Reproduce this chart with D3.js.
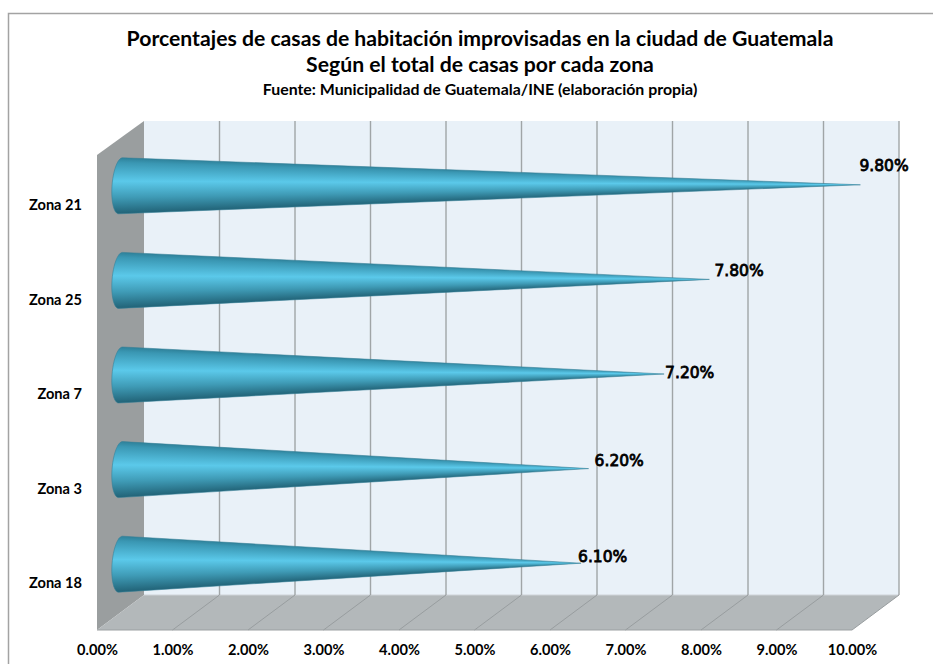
<!DOCTYPE html>
<html>
<head>
<meta charset="utf-8">
<script src="https://cdn.jsdelivr.net/npm/d3@7"></script>
<style>
  html, body { margin: 0; padding: 0; background: #fff; }
  svg { display: block; }
  text { font-family: Lato, "Open Sans", sans-serif; font-weight: 700; fill: #000; }
</style>
</head>
<body>
<div id="chart"></div>
<script>
var zonas = ["Zona 21", "Zona 25", "Zona 7", "Zona 3", "Zona 18"];
var porcentajes = [9.8, 7.8, 7.2, 6.2, 6.1];
var ticks = [0, 1, 2, 3, 4, 5, 6, 7, 8, 9, 10];
var titulos = [
  "Porcentajes de casas de habitación improvisadas en la ciudad de Guatemala",
  "Según el total de casas por cada zona",
  "Fuente: Municipalidad de Guatemala/INE (elaboración propia)"
];

var width = 933, height = 664;

var svg = d3.select("#chart")
  .append("svg")
  .attr("width", width)
  .attr("height", height);

// box corners
var left = 97, right = 852, backTop = 121, backBottom = 595;
var frontBottom = 630, depthX = 47, depthY = 35;

var xFront = d3.scaleLinear().domain([0, 10]).range([left, right]);
var xBack = d3.scaleLinear().domain([0, 10]).range([left + depthX, right + depthX]);
var xMid = d3.scaleLinear().domain([0, 10]).range([left + depthX / 2, right + depthX / 2]);
var y = d3.scaleBand().domain(zonas).range([138.5, 611.5]).paddingInner(0.408).paddingOuter(0.204);
var fmt = d => d.toFixed(2) + "%";

// outer frame, only top and left are inside the picture
svg.append("path")
  .attr("d", "M8.5," + height + "V13.5H" + width)
  .attr("fill", "none")
  .attr("stroke", "#a3a3a3")
  .attr("stroke-width", 1.5);

svg.append("g").selectAll("text")
  .data(titulos)
  .enter().append("text")
  .text(d => d)
  .attr("x", 480)
  .attr("y", (d, i) => [45.5, 71.5, 94.5][i])
  .attr("text-anchor", "middle")
  .attr("font-size", (d, i) => i == 2 ? 15.9 : 21.2);

var box = svg.append("g");

box.append("rect")
  .attr("x", xBack(0))
  .attr("y", backTop)
  .attr("width", xBack(10) - xBack(0))
  .attr("height", backBottom - backTop)
  .attr("fill", "#e9f1f8");

box.append("path")
  .attr("d", "M" + left + "," + (backTop + depthY - 1) + "L" + xBack(0) + "," + backTop + "V" + backBottom + "L" + left + "," + frontBottom + "Z")
  .attr("fill", "#9a9e9f");

box.append("path")
  .attr("d", "M" + left + "," + frontBottom + "L" + xBack(0) + "," + backBottom + "H" + xBack(10) + "L" + right + "," + frontBottom + "Z")
  .attr("fill", "#b3b8ba");

box.append("line")
  .attr("x1", left).attr("x2", right)
  .attr("y1", frontBottom).attr("y2", frontBottom)
  .attr("stroke", "#9b9fa1")
  .attr("stroke-width", 1.2);

box.append("line")
  .attr("x1", xBack(0)).attr("x2", xBack(10))
  .attr("y1", backBottom).attr("y2", backBottom)
  .attr("stroke", "#cfd4d7")
  .attr("stroke-width", 1.2);

var grid = box.selectAll(".grid")
  .data(ticks.slice(1))
  .enter().append("g")
  .attr("class", "grid");

grid.append("line")
  .attr("x1", d => xBack(d)).attr("x2", d => xBack(d))
  .attr("y1", backTop).attr("y2", backBottom)
  .attr("stroke", "#a0a5a7")
  .attr("stroke-width", 1.4);

grid.append("line")
  .attr("x1", d => xBack(d)).attr("x2", d => xFront(d))
  .attr("y1", backBottom).attr("y2", frontBottom)
  .attr("stroke", "#989d9f")
  .attr("stroke-width", 1);

// shading across the cone, applied to each 1px slice so it narrows to the tip
var grad = svg.append("defs").append("linearGradient")
  .attr("id", "coneShade")
  .attr("x1", 0).attr("x2", 0).attr("y1", 0).attr("y2", 1);

grad.selectAll("stop")
  .data([[0, "#2c7d95"], [0.1, "#3a97b3"], [0.42, "#5bc9ea"], [0.7, "#3f9bb6"], [0.9, "#2a7389"], [1, "#1f5f73"]])
  .enter().append("stop")
  .attr("offset", d => d[0])
  .attr("stop-color", d => d[1]);

var cones = svg.selectAll(".cone")
  .data(zonas)
  .enter().append("g")
  .attr("class", "cone");

cones.each(function(zona, i) {
  var g = d3.select(this);
  var cx = xMid(0), cy = y(zona) + y.bandwidth() / 2;
  var ry = y.bandwidth() / 2, rx = 8.5;
  var tipX = xMid(porcentajes[i]), tipY = cy - 1;

  // outline: tip, then the left half of the slightly tilted base ellipse
  var outline = d3.range(0, 25).map(function(k) {
    var a = Math.PI * k / 24;
    var py = -Math.cos(a) * ry;
    return [cx - Math.sin(a) * rx - py * 0.07, cy + py];
  });
  var shape = "M" + tipX + "," + tipY + "L" + outline.join("L") + "Z";

  svg.select("defs").append("clipPath")
    .attr("id", "cone" + i)
    .append("path")
    .attr("d", shape);

  var slices = d3.range(Math.floor(cx - rx - 2), Math.ceil(tipX) + 1);

  g.append("g")
    .attr("clip-path", "url(#cone" + i + ")")
    .selectAll("rect")
    .data(slices)
    .enter().append("rect")
    .each(function(px) {
      var t = Math.max(0, (px + 0.5 - cx) / (tipX - cx));
      var r = ry * (1 - t) + 1;
      var mid = cy + (tipY - cy) * t;
      d3.select(this)
        .attr("x", px)
        .attr("width", 1.2)
        .attr("y", mid - r)
        .attr("height", 2 * r);
    })
    .attr("fill", "url(#coneShade)");

  g.append("path")
    .attr("d", shape)
    .attr("fill", "none")
    .attr("stroke", "#357f96")
    .attr("stroke-opacity", 0.7)
    .attr("stroke-width", 0.8);
});

// manual label placement, the labels were dragged in the original
var nudgeX = [-1, 5, 1, 6, -3];
var nudgeY = [-16, -6, 1.5, -5, -4];

svg.selectAll(".valor")
  .data(porcentajes)
  .enter().append("text")
  .attr("class", "valor")
  .text(fmt)
  .attr("x", (d, i) => xMid(d) + nudgeX[i])
  .attr("y", (d, i) => y(zonas[i]) + y.bandwidth() / 2 + nudgeY[i])
  .attr("dy", "0.1em")
  .style("font-family", "'DejaVu Sans', sans-serif")
  .style("font-weight", 400)
  .attr("font-size", 15.5)
  .attr("stroke", "#000")
  .attr("stroke-width", 0.8);

var xAxis = svg.append("g")
  .attr("transform", "translate(0,637)")
  .call(d3.axisBottom(xFront).tickValues(ticks).tickFormat(fmt).tickSize(0).tickPadding(8));
xAxis.select(".domain").remove();
xAxis.selectAll("text").attr("font-size", 14.6).style("font-family", "Lato").style("font-weight", 700);

var yAxis = svg.append("g")
  .attr("transform", "translate(82,19.5)")
  .call(d3.axisLeft(y).tickSize(0).tickPadding(0));
yAxis.select(".domain").remove();
yAxis.selectAll("text").attr("font-size", 14.6).style("font-family", "Lato").style("font-weight", 700);
</script>
</body>
</html>
